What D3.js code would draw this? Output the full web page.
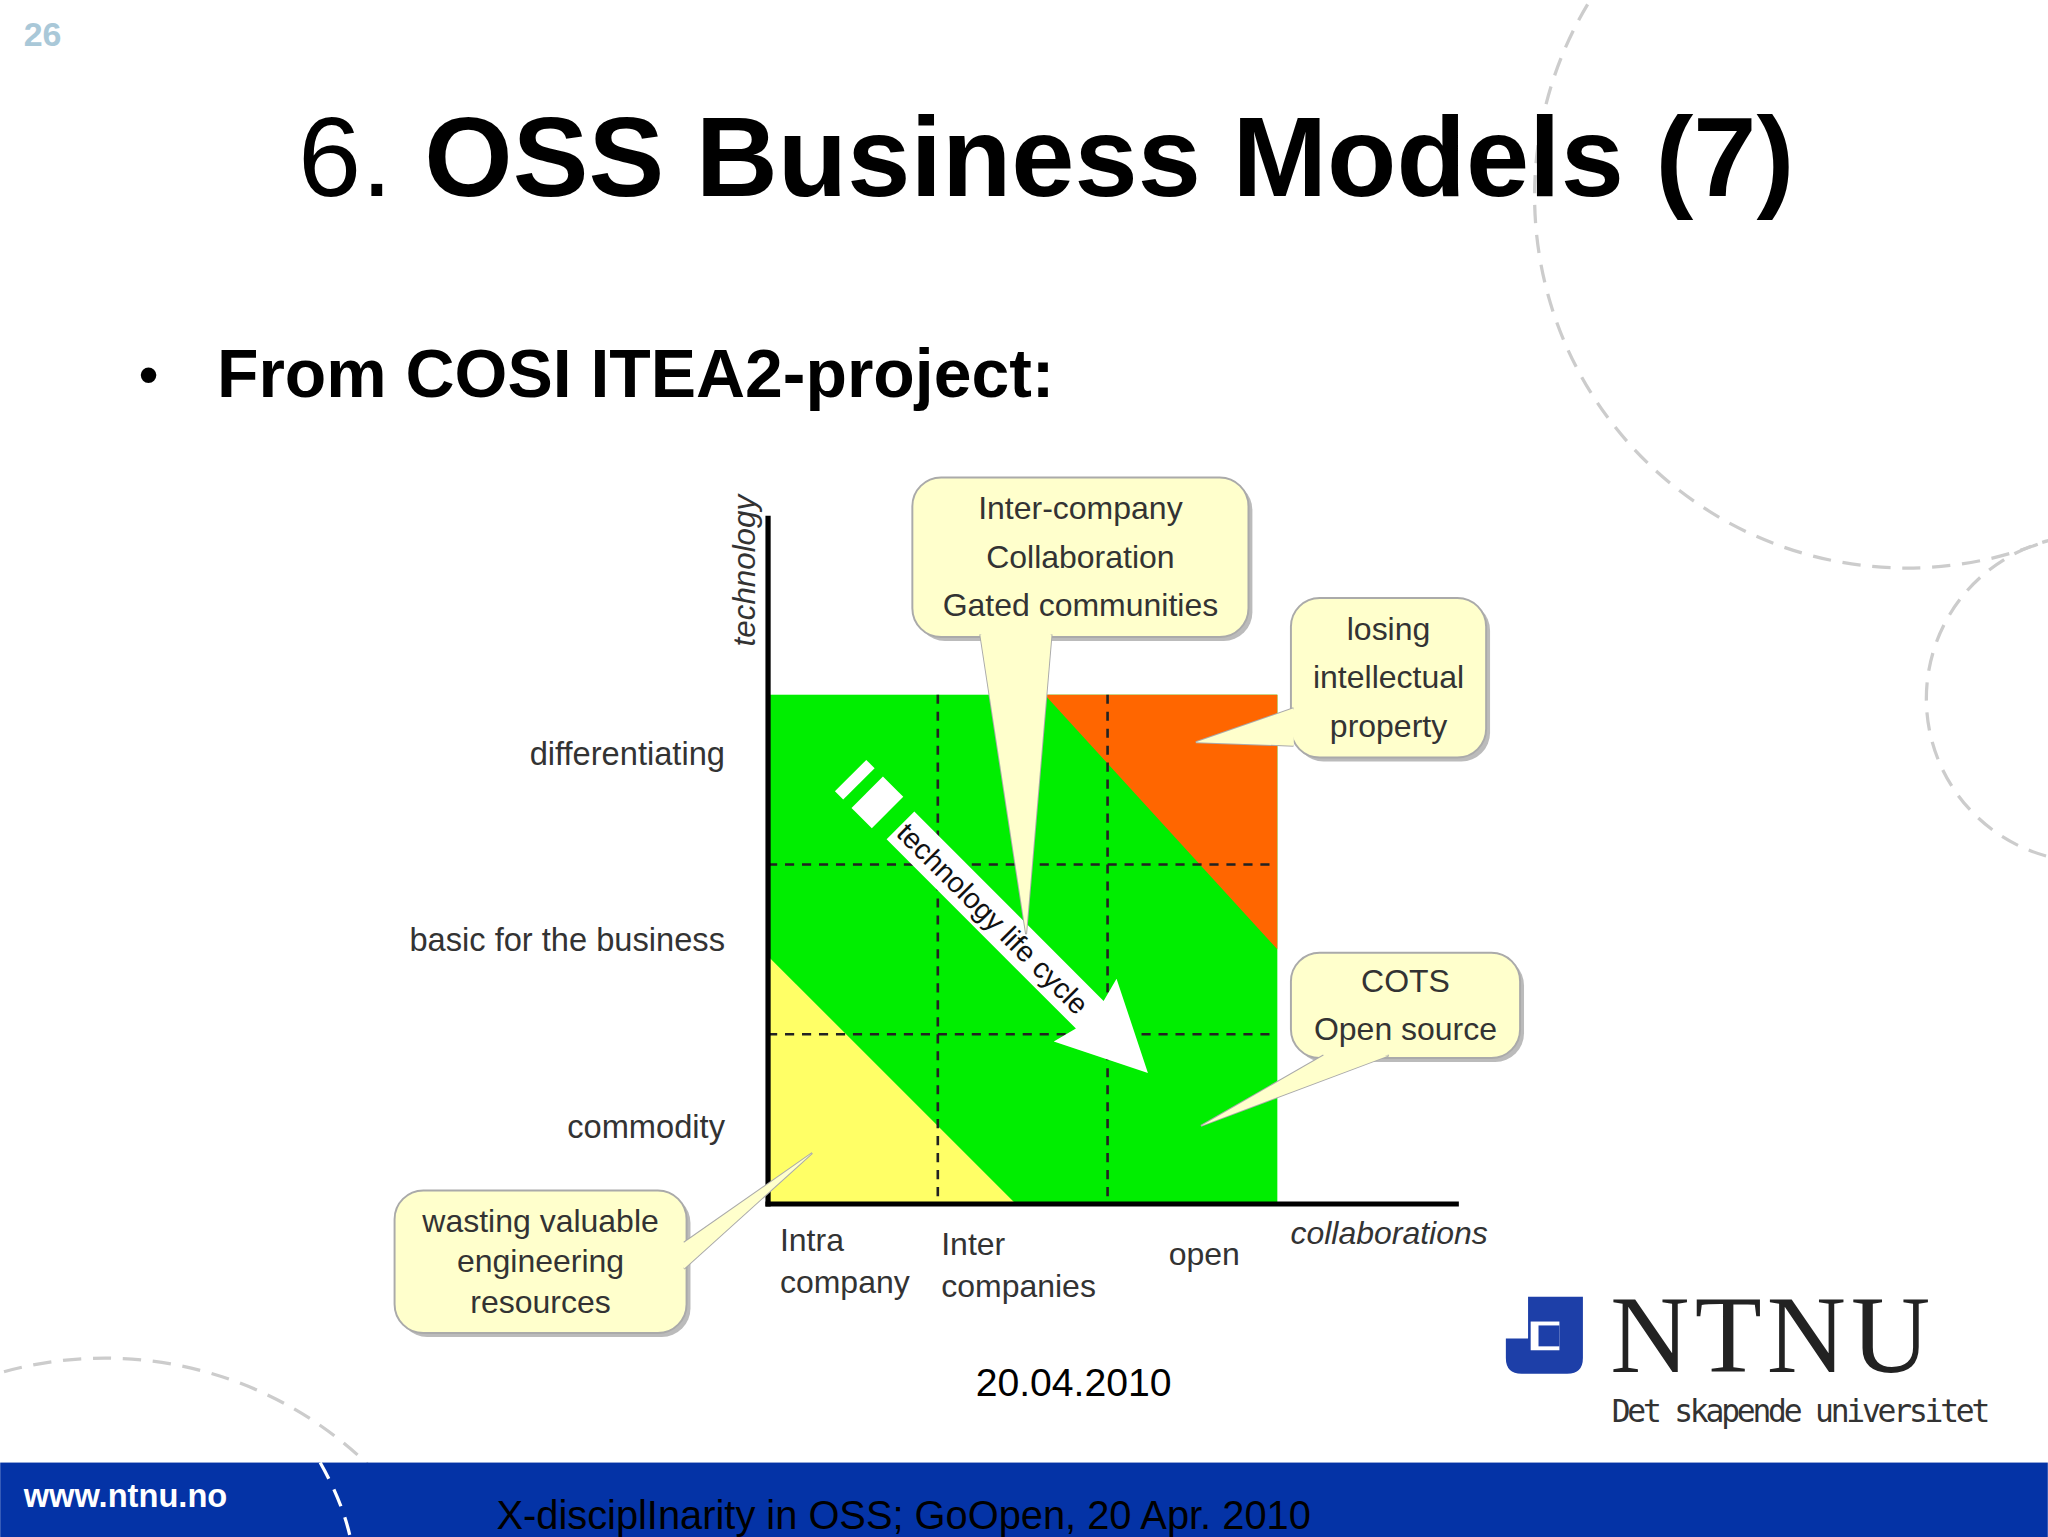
<!DOCTYPE html>
<html><head><meta charset="utf-8">
<script src="https://cdn.jsdelivr.net/npm/d3@7"></script>
<style>body{margin:0;background:#fff}svg{display:block}</style></head>
<body><svg id="c" width="2048" height="1537" viewBox="0 0 1568 1177"></svg>
<script>
// ---- data ----
const xCategories = [{lines:["Intra","company"],pos:0.07,dy:0},{lines:["Inter","companies"],pos:1.02,dy:3},{lines:["open"],pos:2.36,dy:11}];
const yCategories = [{label:"differentiating",pos:2.65},{label:"basic for the business",pos:1.55},{label:"commodity",pos:0.45}];
const gridX = [1,2];
const gridY = [1,2];
const orangeZone = [[1.63,3],[3,3],[3,1.5]];
const yellowZone = [[0,1.46],[0,0],[1.46,0]];
const callouts = [
 {lines:["Inter-company","Collaboration","Gated communities"],box:[0.85,4.28,2.83,3.34],base:[1.25,1.67],tip:[1.52,1.59]},
 {lines:["losing","intellectual","property"],box:[3.08,3.57,4.23,2.63],base:[3.08,2.78],tip:[2.52,2.72]},
 {lines:["COTS","Open source"],box:[3.08,1.48,4.43,0.86],base:[3.1,3.3],tip:[2.55,0.46]},
 {lines:["wasting valuable","engineering","resources"],box:[-2.2,0.08,-0.48,-0.76],base:[-0.65,-0.5],tip:[0.26,0.3]}
];
// ---- draw ----
const svg=d3.select("#c");
const x=d3.scaleLinear().domain([0,3]).range([588,978]);
const y=d3.scaleLinear().domain([0,3]).range([922,532]);
const F="Liberation Sans, Arial, sans-serif";
const deco=svg.append("g").attr("fill","none").attr("stroke","#ccc").attr("stroke-width",2.5).attr("stroke-dasharray","14 9");
deco.append("circle").attr("cx",1460).attr("cy",150).attr("r",285);
deco.append("circle").attr("cx",1600).attr("cy",535).attr("r",125);
deco.append("circle").attr("cx",80).attr("cy",1330).attr("r",290);
svg.append("text").attr("x",18).attr("y",35).attr("font-family",F).attr("font-weight","bold").attr("font-size",26).attr("fill","#a9c8d8").text("26");
const t=svg.append("text").attr("x",228).attr("y",150).attr("font-family",F).attr("font-size",87);
t.append("tspan").text("6. ");t.append("tspan").attr("font-weight","bold").text("OSS Business Models (7)");
svg.append("text").attr("x",106).attr("y",302).attr("font-family",F).attr("font-size",44).text("•");
svg.append("text").attr("x",166).attr("y",304).attr("font-family",F).attr("font-weight","bold").attr("font-size",52).text("From COSI ITEA2-project:");
svg.append("rect").attr("x",x(0)).attr("y",y(3)).attr("width",x(3)-x(0)).attr("height",y(0)-y(3)).attr("fill","#00ee00");
const line=d3.line().x(d=>x(d[0])).y(d=>y(d[1]));
svg.append("path").attr("d",line(orangeZone)+"Z").attr("fill","#ff6600");
svg.append("path").attr("d",line(yellowZone)+"Z").attr("fill","#ffff66");
const g=svg.append("g").attr("stroke","#222").attr("stroke-width",2).attr("stroke-dasharray","7 6");
gridX.forEach(v=>g.append("line").attr("x1",x(v)).attr("x2",x(v)).attr("y1",y(3)).attr("y2",y(0)));
gridY.forEach(v=>g.append("line").attr("y1",y(v)).attr("y2",y(v)).attr("x1",x(0)).attr("x2",x(3)));
const ag=svg.append("g").attr("transform",`translate(${x(0.78)},${y(2.23)}) rotate(45)`);
ag.append("path").attr("d","M0,-15 L205,-15 L200,-34 L268,0 L200,34 L205,15 L0,15Z").attr("fill","#fff");
ag.append("rect").attr("x",-36).attr("y",-17).attr("width",22).attr("height",34).attr("fill","#fff");
ag.append("rect").attr("x",-54).attr("y",-17).attr("width",9).attr("height",34).attr("fill","#fff");
ag.append("text").attr("x",2).attr("y",8).attr("font-family",F).attr("font-size",22).attr("fill","#111").text("technology life cycle");
svg.append("line").attr("x1",588).attr("x2",588).attr("y1",395).attr("y2",924).attr("stroke","#000").attr("stroke-width",4);
svg.append("line").attr("x1",586).attr("x2",1117).attr("y1",922).attr("y2",922).attr("stroke","#000").attr("stroke-width",4);
svg.append("text").attr("transform","translate(578,495) rotate(-90)").attr("font-family",F).attr("font-style","italic").attr("font-size",24).attr("fill","#333").text("technology");
svg.append("text").attr("x",988).attr("y",953).attr("font-family",F).attr("font-style","italic").attr("font-size",24.5).attr("fill","#333").text("collaborations");
yCategories.forEach(c=>svg.append("text").attr("x",555).attr("y",y(c.pos)+8).attr("text-anchor","end").attr("font-family",F).attr("font-size",25).attr("fill","#333").text(c.label));
xCategories.forEach(c=>{const tt=svg.append("text").attr("font-family",F).attr("font-size",24.5).attr("fill","#333");
 c.lines.forEach((l,i)=>tt.append("tspan").attr("x",x(c.pos)).attr("y",958+c.dy+i*32).text(l));});
callouts.forEach(c=>{
 const [bx0,by0,bx1,by1]=c.box;const X0=x(bx0),Y0=y(by0),X1=x(bx1),Y1=y(by1);
 const cg=svg.append("g");
 cg.append("rect").attr("x",X0+3).attr("y",Y0+3).attr("width",X1-X0).attr("height",Y1-Y0).attr("rx",22).attr("fill","#bbb");
 cg.append("rect").attr("x",X0).attr("y",Y0).attr("width",X1-X0).attr("height",Y1-Y0).attr("rx",22).attr("fill","#ffffcc").attr("stroke","#aaa").attr("stroke-width",1.5);
 let pts;
 const tx=x(c.tip[0]),ty=y(c.tip[1]);
 if(c.lines[0]=="Inter-company") pts=[[x(c.base[0]),Y1-2],[tx,ty],[x(c.base[1]),Y1-2]];
 else if(c.lines[0]=="losing") pts=[[X0+2,y(2.92)],[tx,ty],[X0+2,y(2.7)]];
 else if(c.lines[0]=="COTS") pts=[[X0+25,Y1-2],[tx,ty],[X0+75,Y1-2]];
 else pts=[[X1-2,Y0+60],[tx,ty],[X1-2,Y0+40]];
 cg.append("path").attr("d",d3.line()(pts)).attr("fill","#ffffcc").attr("stroke","#aaa").attr("stroke-width",1.5);
 cg.append("path").attr("d",d3.line()(pts)).attr("fill","#ffffcc");
 const n=c.lines.length,lh=c.lines[0]=="wasting valuable"?31:37;
 const cy=(Y0+Y1)/2-(n-1)*lh/2+8;
 const tt=cg.append("text").attr("text-anchor","middle").attr("font-family",F).attr("font-size",24.5).attr("fill","#333");
 c.lines.forEach((l,i)=>tt.append("tspan").attr("x",(X0+X1)/2).attr("y",cy+i*lh).text(l));
});
svg.append("text").attr("x",822).attr("y",1069).attr("text-anchor","middle").attr("font-family",F).attr("font-size",30).text("20.04.2010");
svg.append("path").attr("d","M1170,993 H1212 V1040 Q1212,1052 1200,1052 H1165 Q1153,1052 1153,1040 V1025 H1170Z").attr("fill","#1d3fa8");
svg.append("rect").attr("x",1172).attr("y",1012).attr("width",22).attr("height",22).attr("fill","#fff");
svg.append("rect").attr("x",1178).attr("y",1015).attr("width",16).attr("height",16).attr("fill","#1d3fa8");
svg.append("text").attr("x",1233).attr("y",1051).attr("font-family","Liberation Serif, serif").attr("font-size",84).attr("textLength",245).attr("fill","#222").text("NTNU");
svg.append("text").attr("x",1234).attr("y",1089).attr("font-family","DejaVu Sans Mono, monospace").attr("font-size",24).attr("textLength",290).attr("fill","#333").text("Det skapende universitet");
svg.append("rect").attr("x",0).attr("y",1120).attr("width",1568).attr("height",57).attr("fill","#0433a6");
svg.append("path").attr("d","M245,1120 Q262,1150 268,1177").attr("fill","none").attr("stroke","#fff").attr("stroke-width",2.5).attr("stroke-dasharray","14 9");
svg.append("text").attr("x",18).attr("y",1154).attr("font-family",F).attr("font-weight","bold").attr("font-size",25).attr("fill","#fff").text("www.ntnu.no");
svg.append("text").attr("x",380).attr("y",1171).attr("font-family",F).attr("font-size",30.5).attr("fill","#000").text("X-disciplInarity in OSS; GoOpen, 20 Apr. 2010");
</script></body></html>
